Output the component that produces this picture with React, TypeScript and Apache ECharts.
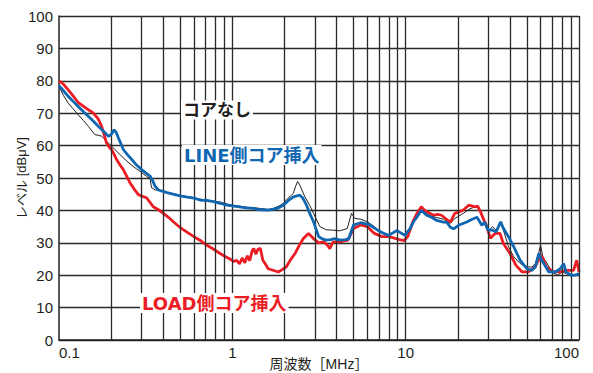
import React, { useEffect, useRef } from "react";
import * as echarts from "echarts";

const xTickLabels = ["0.1", "1", "10", "100"];
const gridFreqs = [
  0.2, 0.3, 0.4, 0.5, 0.6, 0.7, 0.8, 0.9, 1,
  2, 3, 4, 5, 6, 7, 8, 9, 10,
  20, 30, 40, 50, 60, 70, 80, 90, 100,
];

const seriesNames = ["コアなし", "LINE側コア挿入", "LOAD側コア挿入"];

const noCore: [number, number][] = [
  [0.1, 78.3], [0.106, 75.5], [0.113, 73.1], [0.12, 71.5], [0.129, 69.5], [0.138, 67.8],
  [0.148, 65.9], [0.155, 64.5], [0.161, 63.4], [0.168, 63.2], [0.176, 62.9], [0.185, 61.8],
  [0.197, 60.3], [0.21, 58.8], [0.23, 56.7], [0.25, 54.9], [0.275, 53.1], [0.3, 51.7],
  [0.32, 50.5], [0.335, 49.8], [0.342, 47], [0.36, 46.3], [0.39, 46], [0.43, 45.4],
  [0.467, 45], [0.5, 44.6], [0.54, 44.3], [0.6, 43.9], [0.65, 43.5], [0.72, 43.2],
  [0.78, 42.8], [0.85, 42.6], [0.93, 42], [1.0, 41.6], [1.1, 41.3], [1.2, 41],
  [1.33, 40.8], [1.45, 40.6], [1.61, 40.3], [1.72, 40.6], [1.85, 41.3], [1.97, 42.2],
  [2.1, 43.8], [2.25, 45.3], [2.32, 47.5], [2.38, 48.9], [2.45, 47.8], [2.62, 44.2],
  [2.8, 41.5], [2.94, 39.1], [3.2, 35], [3.49, 34], [3.8, 33.9], [4.17, 33.7],
  [4.6, 34.4], [4.87, 39.1], [5.1, 37.5], [5.5, 37.3], [6.0, 36.5], [6.6, 35],
  [7.3, 32.9], [8.0, 32.5], [8.9, 33.6], [9.9, 32.4], [10.6, 34.5], [11.6, 38.5],
  [12.3, 40.5], [13.2, 39], [14.1, 38.2], [15.1, 37.8], [16.5, 37.3], [18.1, 36],
  [19.2, 37.5], [21.5, 39.1], [23.5, 40.5], [25.2, 41.1], [26.5, 41], [27.5, 38.5],
  [28.3, 37], [29.9, 33.4], [31.7, 35], [33.3, 33.8], [35.3, 36], [36.6, 34],
  [39.2, 28.8], [42, 25.7], [45.8, 23.6], [50, 22.6], [53.5, 22.5], [56, 23.6],
  [58.6, 27], [60, 29.3], [62, 25.5], [64.6, 24.1], [70, 21], [75, 20],
  [80, 21], [85, 20.5], [90, 19.8], [100, 20],
];

const lineCore: [number, number][] = [
  [0.1, 78.5], [0.106, 77], [0.113, 75.2], [0.12, 73.8], [0.129, 72.1], [0.138, 70.5],
  [0.148, 69], [0.158, 67.5], [0.169, 65.9], [0.18, 64.5], [0.193, 62.9], [0.2, 63.4],
  [0.208, 64.9], [0.214, 64], [0.22, 62.4], [0.228, 60.5], [0.235, 58.8], [0.248, 57.2],
  [0.263, 55.7], [0.28, 54], [0.3, 52.6], [0.318, 51.5], [0.335, 50.6], [0.345, 49.5],
  [0.358, 47.5], [0.375, 46.3], [0.39, 46], [0.42, 45.5], [0.467, 44.9], [0.5, 44.5],
  [0.54, 44.2], [0.6, 43.8], [0.65, 43.2], [0.72, 43], [0.78, 42.7], [0.85, 42.2],
  [0.93, 41.6], [1.0, 41.4], [1.1, 41.1], [1.2, 40.8], [1.33, 40.6], [1.45, 40.2],
  [1.61, 40.1], [1.72, 40.3], [1.85, 40.8], [1.97, 41.6], [2.1, 43], [2.25, 44.2],
  [2.45, 44.7], [2.55, 43.8], [2.68, 41.6], [2.8, 39], [2.94, 36.5], [3.05, 34],
  [3.15, 31.9], [3.3, 31.2], [3.49, 30.8], [3.7, 31], [3.88, 31.3], [4.2, 30.8],
  [4.5, 31], [4.7, 31.3], [4.85, 33.5], [5.0, 35.5], [5.5, 36.2], [6.2, 35.5],
  [6.9, 33.9], [7.4, 33], [7.96, 32.3], [8.4, 33], [8.9, 33.8], [9.4, 33],
  [9.9, 32.3], [10.6, 34.4], [11.1, 36.5], [11.6, 37.9], [12.3, 40], [12.8, 39.2],
  [13.2, 38.5], [14.1, 37.9], [15.1, 36.9], [16.5, 36.4], [17.3, 36.3], [18.1, 34.8],
  [18.9, 34.3], [20.2, 35.4], [22.5, 36.4], [24, 37.2], [25.8, 37.9], [27.5, 35.4],
  [28.5, 36.4], [29.9, 33.9], [31.7, 33.9], [33.3, 33.4], [35.3, 36.5], [36.6, 34.5],
  [39.2, 31.9], [42, 28.8], [45.8, 24.6], [50, 22], [53.5, 21.5], [56, 22.6],
  [58.6, 26.7], [60.5, 25], [62.6, 23.6], [67, 21], [73, 21], [78, 22],
  [81.6, 23.6], [84, 21], [90, 20], [95, 20], [100, 20.5],
];

const loadCore: [number, number][] = [
  [0.1, 80], [0.106, 79], [0.113, 77.2], [0.12, 75.5], [0.129, 73.3], [0.138, 72.2],
  [0.148, 71], [0.155, 70.4], [0.161, 69.5], [0.168, 68.3], [0.176, 66], [0.182, 63.5],
  [0.188, 60.8], [0.195, 59.5], [0.201, 58.8], [0.208, 57.3], [0.215, 55.7], [0.225, 54],
  [0.235, 52.6], [0.246, 50.5], [0.257, 48.5], [0.272, 46.5], [0.287, 44.9], [0.3, 44.4],
  [0.32, 43.9], [0.335, 42.5], [0.35, 41.1], [0.375, 40.2], [0.4, 39.1], [0.43, 37.8],
  [0.457, 36.5], [0.48, 35.5], [0.51, 34.4], [0.55, 33.2], [0.6, 31.9], [0.65, 30.8],
  [0.71, 29.3], [0.78, 28], [0.85, 26.7], [0.92, 25.6], [0.97, 25], [1.02, 24.2],
  [1.06, 24.6], [1.1, 23.5], [1.14, 25.3], [1.18, 23.8], [1.22, 26], [1.26, 24.5],
  [1.3, 27.5], [1.33, 28.2], [1.37, 26.5], [1.4, 27.9], [1.45, 28.3], [1.5, 24.6],
  [1.55, 23.5], [1.61, 22], [1.7, 21.6], [1.84, 21], [1.95, 21.8], [2.05, 22.6],
  [2.15, 24.5], [2.3, 26.7], [2.45, 29.5], [2.57, 31.3], [2.75, 32.9], [2.94, 31.3],
  [3.15, 30], [3.36, 30.3], [3.55, 29.2], [3.65, 28.2], [3.82, 30.3], [4.17, 30.3],
  [4.64, 30.8], [5.0, 34.4], [5.5, 35.5], [6.0, 35], [6.6, 32.9], [7.3, 31.9],
  [7.96, 32], [8.5, 31.5], [9.2, 31], [9.8, 30.7], [10.3, 32], [11, 36.5],
  [11.6, 39], [12.3, 41.1], [13.0, 39.8], [13.6, 39.3], [14.5, 38.5], [15.3, 38.8],
  [16.1, 38.5], [17, 37.5], [18.1, 36.4], [19.2, 39.1], [20.3, 39.5], [21.5, 40.1],
  [23.1, 41.6], [25.2, 41.1], [26, 41.3], [27, 39.6], [28.3, 37], [29.2, 35.5],
  [30.8, 31.4], [32.8, 32.9], [35, 32.9], [36.6, 29.8], [40, 26.7], [43.2, 23.1],
  [47, 21], [51, 21], [56, 22.6], [60, 26.2], [62, 25.2], [64.6, 22.6],
  [71, 21], [78, 21], [84, 21.5], [93, 21.5], [97, 24.6], [100, 21],
];

const BLACK = "#231f20";
const BLUE = "#0f67b1";
const RED = "#ec1c24";
const FONT = '"Liberation Sans", Arial, "Noto Sans CJK JP", sans-serif';
const LABEL_FONT = '"DejaVu Sans", "Noto Sans CJK JP", sans-serif';

export default function App() {
  const ref = useRef<HTMLDivElement>(null);

  useEffect(() => {
    if (!ref.current) return;
    const chart = echarts.init(ref.current, undefined, { renderer: "svg" });
    chart.setOption({
      animation: false,
      backgroundColor: "#ffffff",
      grid: { left: 59, right: 14, top: 16, bottom: 33, outerBoundsMode: "none", containLabel: false },
      xAxis: {
        type: "log",
        logBase: 10,
        min: 0.1,
        max: 100,
        name: "周波数［MHz］",
        nameLocation: "middle",
        nameGap: 17,
        nameMoveOverlap: false,
        nameTextStyle: { fontSize: 14, color: "#231f20", fontFamily: FONT },
        axisLine: { show: true, lineStyle: { color: BLACK, width: 1.5 } },
        axisTick: { show: false },
        splitLine: { show: false },
        axisLabel: {
          fontSize: 15,
          color: "#231f20",
          fontFamily: FONT,
          margin: 5,
          alignMinLabel: "left",
          alignMaxLabel: "right",
          formatter: (v: number) => {
            const idx = [0.1, 1, 10, 100].findIndex((t) => Math.abs(t - v) < 1e-9 * Math.max(1, v));
            return idx >= 0 ? xTickLabels[idx] : "";
          },
        },
      },
      yAxis: {
        type: "value",
        min: 0,
        max: 100,
        interval: 10,
        name: "レベル [dBμV]",
        nameLocation: "middle",
        nameGap: 31,
        nameMoveOverlap: false,
        nameTextStyle: { fontSize: 13, color: "#231f20", fontFamily: FONT },
        axisLine: { show: true, lineStyle: { color: BLACK, width: 1.5 } },
        axisTick: { show: false },
        axisLabel: { fontSize: 15, color: "#231f20", fontFamily: FONT, margin: 6 },
        splitLine: { show: true, lineStyle: { color: "#2a2a2a", width: 1.3 } },
      },
      series: [
        {
          type: "line",
          data: [],
          z: 1,
          silent: true,
          markLine: {
            silent: true,
            symbol: "none",
            label: { show: false },
            lineStyle: { color: "#2a2a2a", width: 1.3, type: "solid" },
            data: gridFreqs.map((f) => ({ xAxis: f })),
          },
        },
        {
          name: seriesNames[0],
          type: "line",
          data: noCore,
          showSymbol: false,
          z: 3,
          lineStyle: { color: BLACK, width: 1 },
        },
        {
          name: seriesNames[2],
          type: "line",
          data: loadCore,
          showSymbol: false,
          z: 4,
          lineStyle: { color: RED, width: 2.8 },
        },
        {
          name: seriesNames[1],
          type: "line",
          data: lineCore,
          showSymbol: false,
          z: 5,
          lineStyle: { color: BLUE, width: 2.8 },
        },
      ],
      graphic: [
        {
          type: "text",
          x: 181,
          y: 110,
          z: 100,
          style: {
            text: seriesNames[0],
            fill: "#231f20",
            font: `bold 17px ${LABEL_FONT}`,
            verticalAlign: "middle",
            backgroundColor: "#fff",
            padding: [1, 2],
          },
        },
        {
          type: "text",
          x: 182,
          y: 155,
          z: 100,
          style: {
            text: seriesNames[1],
            fill: BLUE,
            font: `bold 18px ${LABEL_FONT}`,
            verticalAlign: "middle",
            backgroundColor: "#fff",
            padding: [1, 2],
          },
        },
        {
          type: "text",
          x: 140,
          y: 303,
          z: 100,
          style: {
            text: seriesNames[2],
            fill: RED,
            font: `bold 18px ${LABEL_FONT}`,
            verticalAlign: "middle",
            backgroundColor: "#fff",
            padding: [1, 2],
          },
        },
      ],
    });
    return () => chart.dispose();
  }, []);

  return <div ref={ref} style={{ width: 593, height: 373, position: "fixed", left: 0, top: 0 }} />;
}
